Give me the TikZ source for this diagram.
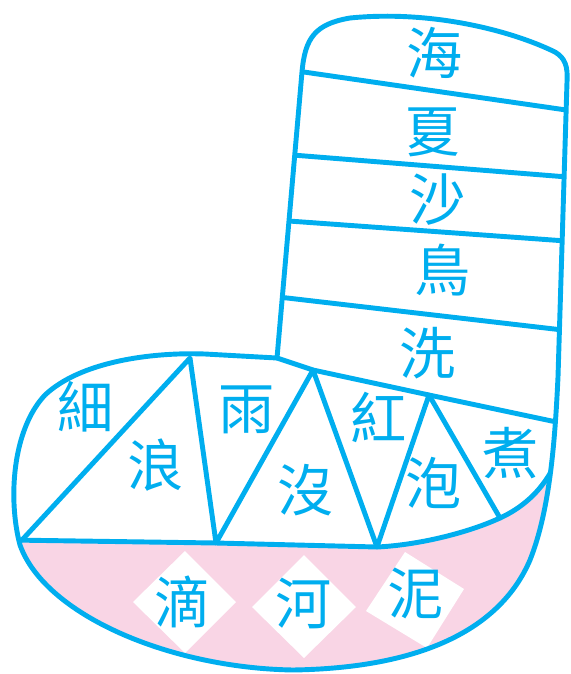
\documentclass[tikz,border=0pt]{standalone}
\usepackage{fontspec}
\newfontfamily\cjk{Noto Sans CJK TC}
\usepackage{tikz}
\usetikzlibrary{positioning}
\definecolor{sockblue}{HTML}{00AEEF}
\definecolor{sockpink}{HTML}{F9D5E5}
\newcommand{\bootoutline}{(277,358) -- (302,72) .. controls (305,38) and (315,24) .. (350,18) .. controls (430,10) and (510,30) .. (555,52) .. controls (565,58) and (568,66) .. (567,82) -- (558,377) .. controls (555,440) and (550,510) .. (530,560) .. controls (500,630) and (420,668) .. (293,670) .. controls (170,668) and (45,615) .. (20,545) .. controls (8,500) and (12,430) .. (45,395) .. controls (80,362) and (150,352) .. (205,354) -- cycle}

\begin{document}
\begin{tikzpicture}[
    x=0.02cm, y=-0.02cm,
    edge/.style={draw=sockblue, line width=2.8pt, line join=round, line cap=round},
    tile/.style={fill=white},
    zi/.style={text=sockblue, inner sep=0pt, font=\cjk\fontsize{32}{32}\selectfont}
]
\useasboundingbox (0,0) rectangle (571,674);
\begin{scope}
\clip \bootoutline;
\fill[sockpink] (0,540) -- (22,540) -- (216,543) -- (377,547) .. controls (420,545) and (470,532) .. (500,518) .. controls (522,508) and (540,492) .. (552,470) -- (600,470) -- (600,700) -- (0,700) -- cycle;
\fill[tile] (133,602) -- (185,551) -- (236,602) -- (185,653) -- cycle;
\fill[tile] (252,607) -- (304,555) -- (356,607) -- (304,658) -- cycle;
\fill[tile] (366,611) -- (405,552) -- (464,589) -- (427,648) -- cycle;
\draw[edge] (290,70) -- (580,112);
\draw[edge] (280,154) -- (580,178);
\draw[edge] (275,220) -- (580,242);
\draw[edge] (270,296) -- (580,332);
\draw[edge] (277,358) -- (313,370) -- (429,395) -- (580,427);
\draw[edge] (10,540) -- (216,543) -- (377,547) .. controls (420,545) and (470,532) .. (500,518) .. controls (522,508) and (540,492) .. (552,470);
\draw[edge] (22,540) -- (190,358) -- (216,543) -- (313,370) -- (377,547) -- (429,395) -- (500,518);
\end{scope}
\draw[edge] \bootoutline;
\node[zi] (hai) at (435,53) {海};
\node[zi] (xia) at (433,132) {夏};
\node[zi] (sha) at (438,200) {沙};
\node[zi] (niao) at (443,270) {鳥};
\node[zi] (xiwash) at (428,353) {洗};
\node[zi] (xithin) at (86,407) {細};
\node[zi] (lang) at (156,465) {浪};
\node[zi] (yu) at (247,410) {雨};
\node[zi] (mei) at (306,490) {沒};
\node[zi] (hong) at (379,417) {紅};
\node[zi] (pao) at (434,483) {泡};
\node[zi] (zhu) at (511,453) {煮};
\node[zi] (di) at (183,602) {滴};
\node[zi] (he) at (304,603) {河};
\node[zi] (ni) at (416,593) {泥};
\end{tikzpicture}
\end{document}
